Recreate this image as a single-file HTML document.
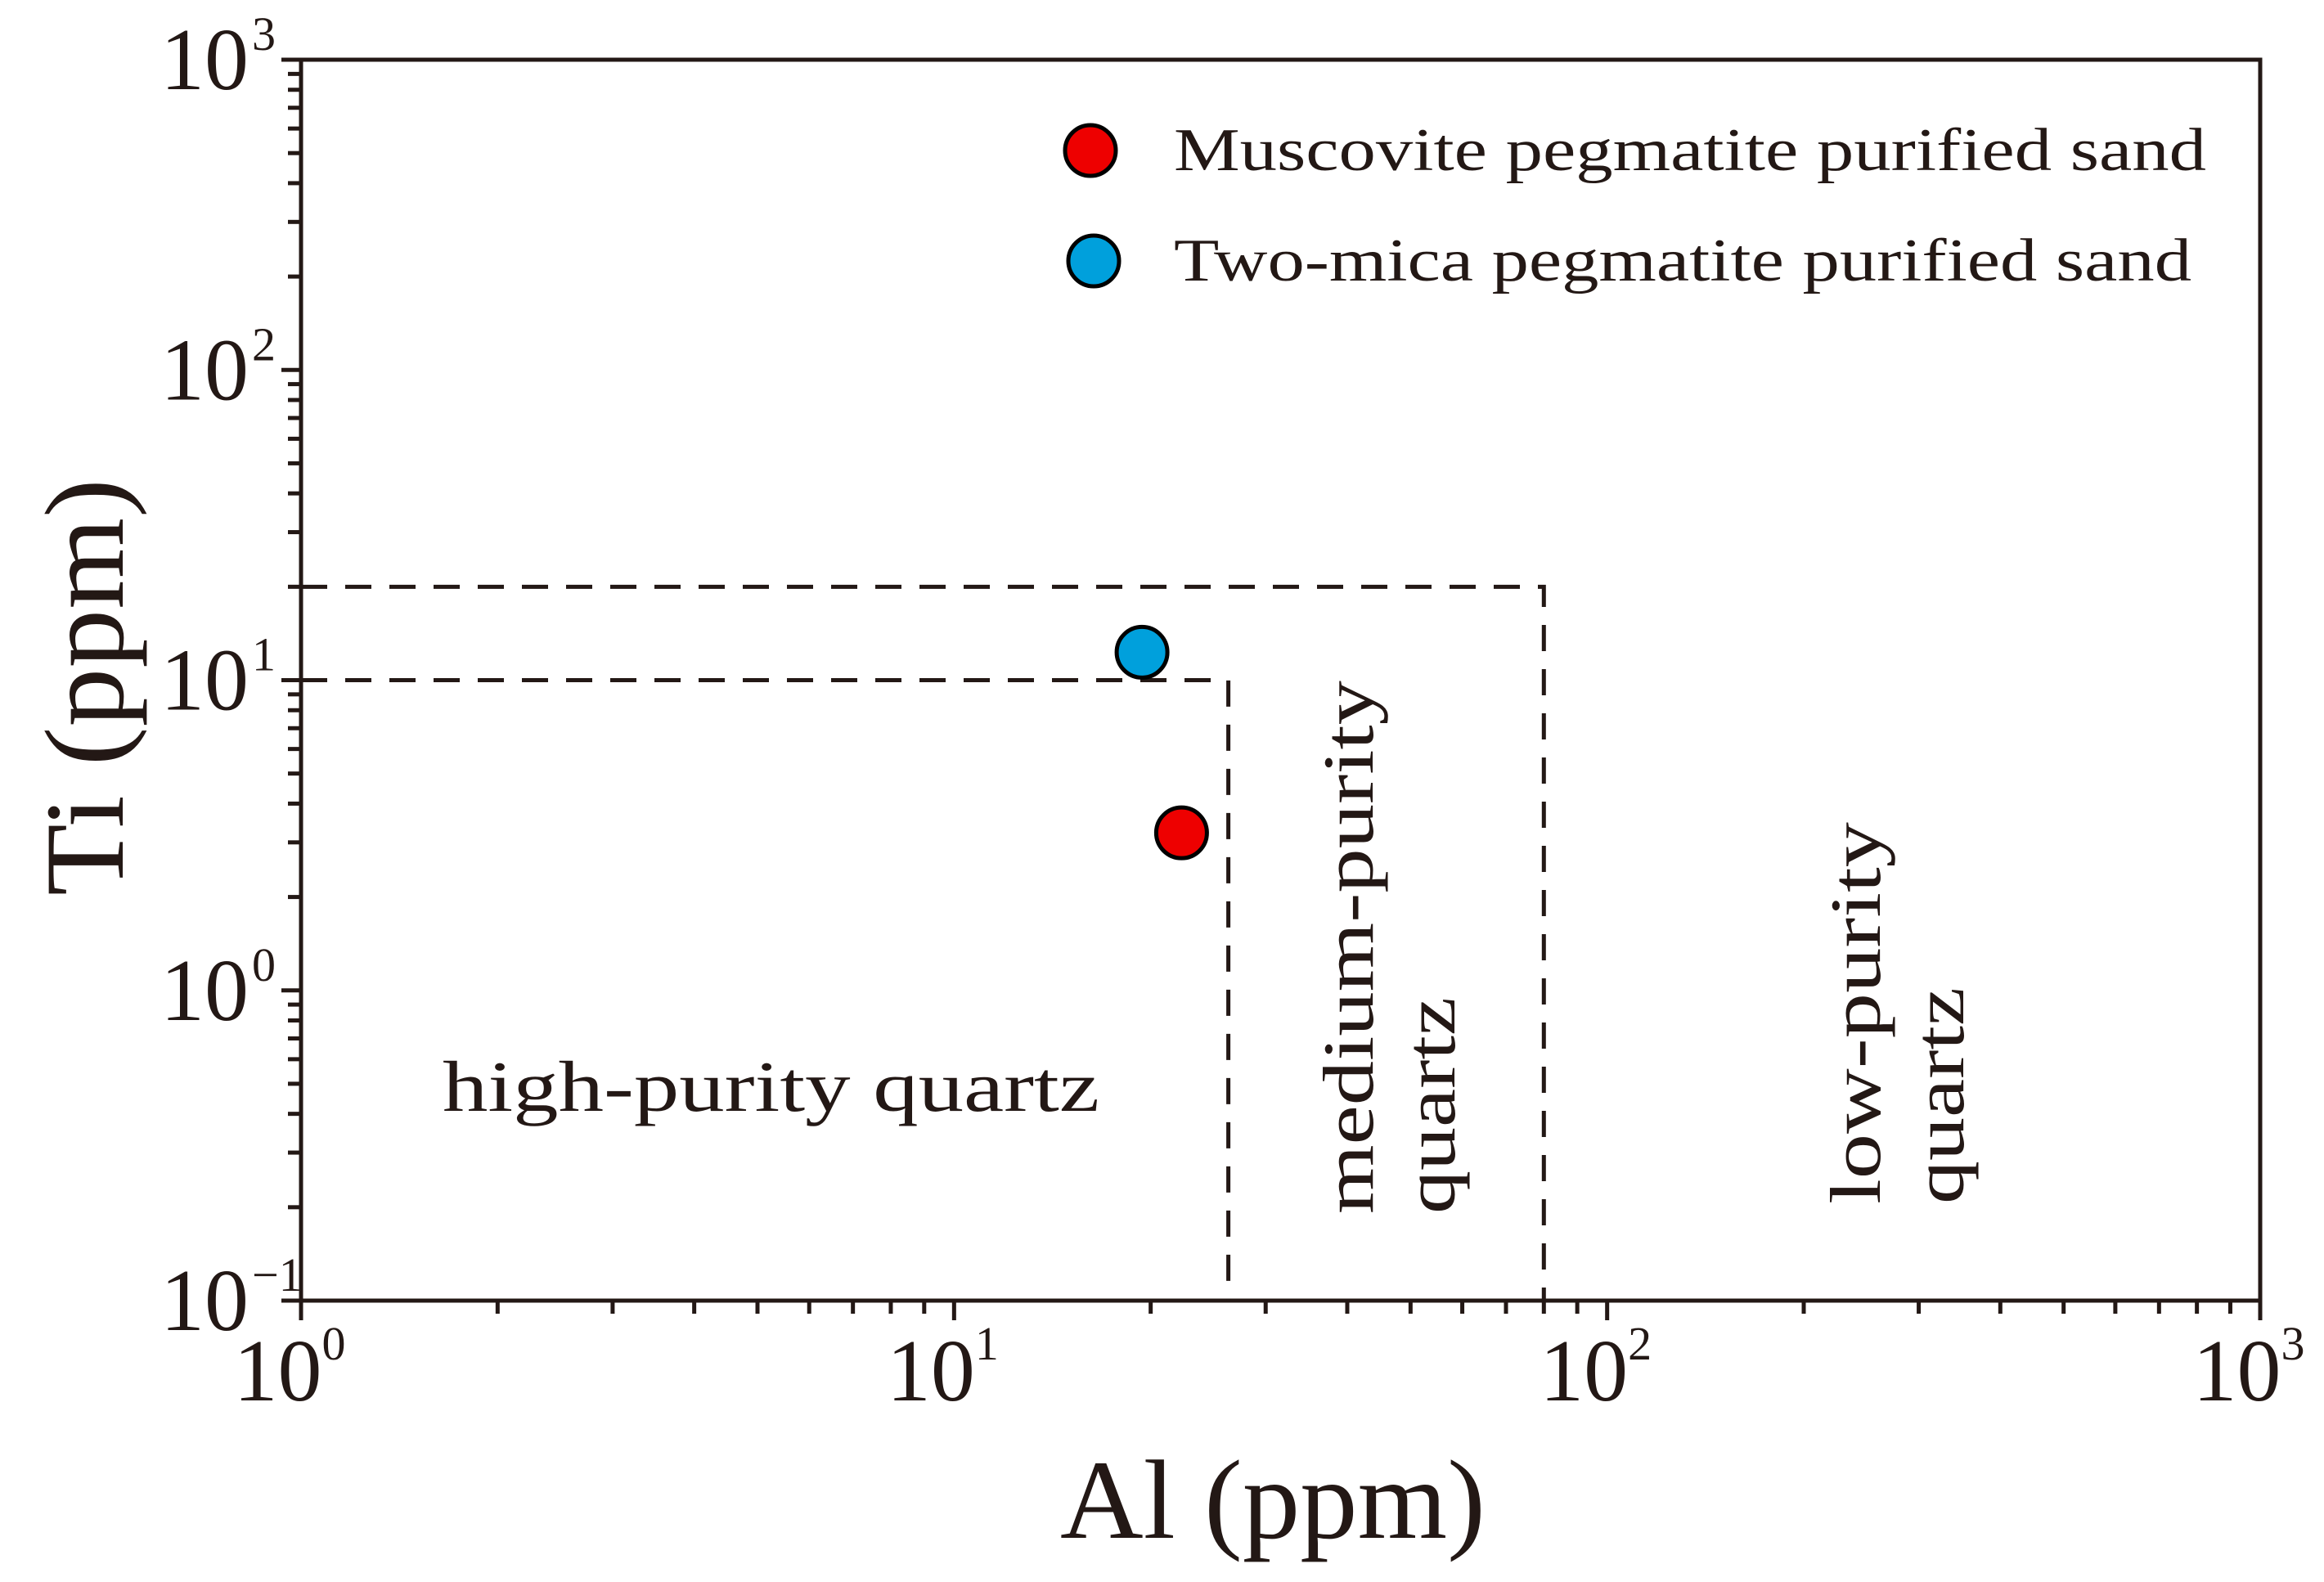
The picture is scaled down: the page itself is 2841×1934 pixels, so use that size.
<!DOCTYPE html>
<html><head><meta charset="utf-8"><style>
html,body{margin:0;padding:0;background:#fff;}
svg{display:block;font-family:"Liberation Serif",serif;}
</style></head><body>
<svg id="chart" width="2841" height="1934" viewBox="0 0 2841 1934" xmlns="http://www.w3.org/2000/svg">
</svg>
<script>
const xDecades=[0,1,2,3];
const yDecades=[-1,0,1,2,3];
const seriesNames=["Muscovite pegmatite purified sand","Two-mica pegmatite purified sand"];
const seriesColors=["#ee0000","#00a0dc"];
const seriesAl=[22.3,19.4];
const seriesTi=[3.22,12.3];
const boundaryAl=[26.3,80];
const boundaryTi=[10,20];

const L=368,R=2763,T=73,B=1590;
const sx=v=>L+(Math.log10(v)-0)/3*(R-L);
const sy=v=>B-(Math.log10(v)+1)/4*(B-T);
const svg=document.getElementById('chart');
const NS="http://www.w3.org/2000/svg";
const ink="#231815";
function el(tag,attrs,parent){const e=document.createElementNS(NS,tag);for(const k in attrs)e.setAttribute(k,attrs[k]);(parent||svg).appendChild(e);return e;}

const frame=el('rect',{x:L,y:T,width:R-L,height:B-T,fill:'none',stroke:ink,'stroke-width':5});



for(let d=0;d<3;d++){for(let m=1;m<=9;m++){const v=m*Math.pow(10,d);const x=sx(v);
const t=el('line',{x1:x,x2:x,y1:B,y2:B+(m===1?24:16),stroke:ink,'stroke-width':5});

}}
{const t=el('line',{x1:R,x2:R,y1:B,y2:B+24,stroke:ink,'stroke-width':5});

}
for(let d=-1;d<3;d++){for(let m=1;m<=9;m++){const v=m*Math.pow(10,d);const y=sy(v);
const t=el('line',{x1:L,x2:L-(m===1?24:16),y1:y,y2:y,stroke:ink,'stroke-width':5});

}}
{const t=el('line',{x1:L,x2:L-24,y1:T,y2:T,stroke:ink,'stroke-width':5});

}

xDecades.forEach(d=>{const x=sx(Math.pow(10,d));
const t=el('text',{x:x-14,y:1712,'font-size':108,fill:ink,'text-anchor':'middle'});


t.textContent='10';
const s=el('tspan',{dy:-50,'font-size':58},t);s.textContent=String(d);});
yDecades.forEach(d=>{const y=sy(Math.pow(10,d));
const t=el('text',{x:304,y:y+36,'font-size':108,fill:ink,'text-anchor':'end'});


t.textContent='10';
const s=el('text',{x:308,y:y-12,'font-size':58,fill:ink});


s.textContent=d<0?'\u2212'+Math.abs(d):String(d);});

const dash={stroke:ink,'stroke-width':5,'stroke-dasharray':'32,22',fill:'none'};
const b1=el('polyline',Object.assign({points:`${L},${sy(boundaryTi[0])} ${sx(boundaryAl[0])},${sy(boundaryTi[0])} ${sx(boundaryAl[0])},${B}`},dash));


const b2=el('polyline',Object.assign({points:`${L},${sy(boundaryTi[1])} ${sx(boundaryAl[1])},${sy(boundaryTi[1])} ${sx(boundaryAl[1])},${B}`},dash));



seriesAl.forEach((a,i)=>{const c=el('circle',{cx:sx(a),cy:sy(seriesTi[i]),r:31,fill:seriesColors[i],stroke:'#000','stroke-width':5});

});

const legY=[184,319];const legX=[1333,1337];
seriesNames.forEach((n,i)=>{
const c=el('circle',{cx:legX[i],cy:legY[i],r:31,fill:seriesColors[i],stroke:'#000','stroke-width':5});


const t=el('text',{x:1435,y:legY[i]+24,'font-size':74,fill:ink,textLength:i===0?1262:1244,lengthAdjust:'spacingAndGlyphs'});


t.textContent=n;});

function txt(name,x,y,size,str,rot,len){const t=el('text',{x:x,y:y,'font-size':size,fill:ink,transform:rot?`rotate(-90 ${x} ${y})`:''});
if(len){t.setAttribute('textLength',len);t.setAttribute('lengthAdjust','spacingAndGlyphs');}


t.textContent=str;return t;}
txt('high-purity-label',541,1358,88,'high-purity quartz',false,803);
txt('medium-purity-label',1678,1484,88,'medium-purity',true,652);
txt('medium-quartz-label',1778,1484,88,'quartz',true,265);
txt('low-purity-label',2298,1472,88,'low-purity',true,467);
txt('low-quartz-label',2400,1472,88,'quartz',true,265);

const xt=el('text',{x:1556,y:1880,'font-size':138,fill:ink,'text-anchor':'middle',textLength:520,lengthAdjust:'spacingAndGlyphs'});


xt.textContent='Al (ppm)';
const yt=el('text',{x:150,y:840,'font-size':138,fill:ink,'text-anchor':'middle',textLength:510,lengthAdjust:'spacingAndGlyphs',transform:'rotate(-90 150 840)'});


yt.textContent='Ti (ppm)';
</script>
</body></html>
